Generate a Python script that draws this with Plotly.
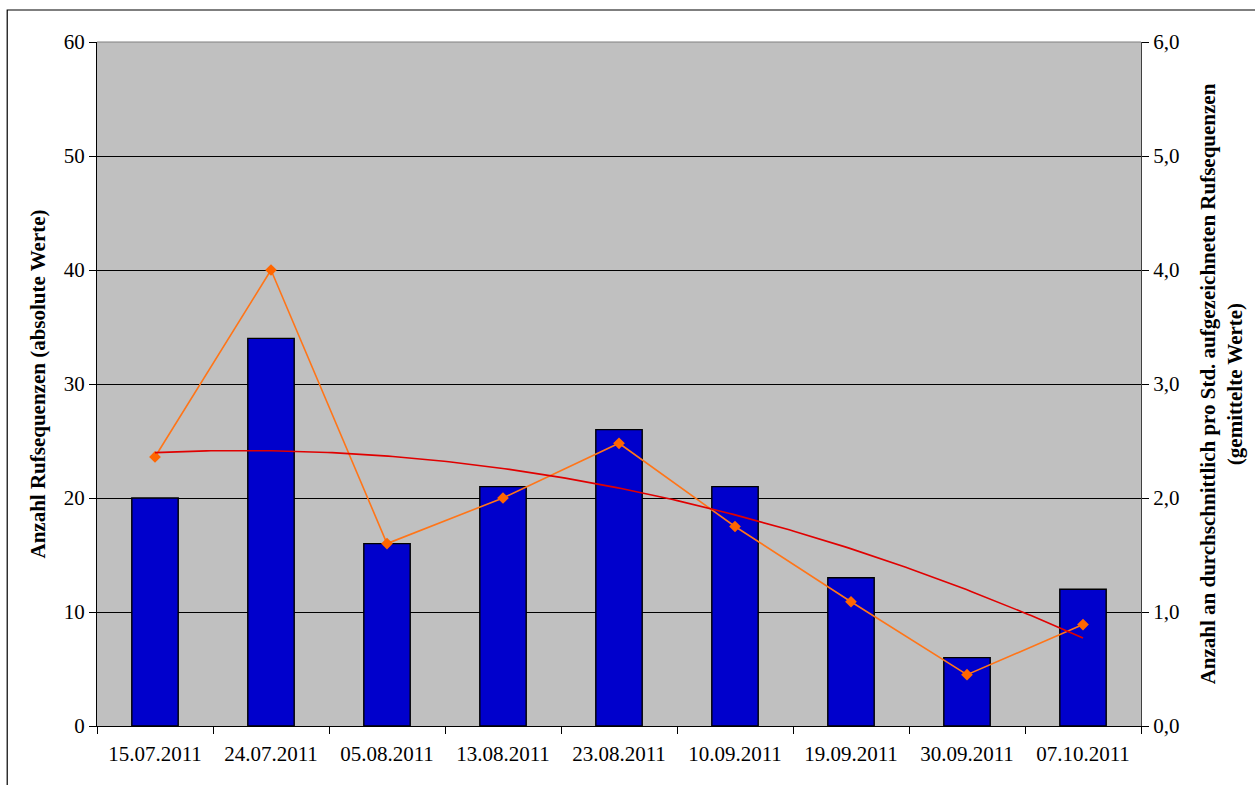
import numpy as np
import plotly.graph_objects as go

# Aufnahmetermine und Werte
dates = ["15.07.2011", "24.07.2011", "05.08.2011", "13.08.2011", "23.08.2011",
         "10.09.2011", "19.09.2011", "30.09.2011", "07.10.2011"]
sequences = [20, 34, 16, 21, 26, 21, 13, 6, 12]               # absolute Werte
per_hour = [2.36, 4.0, 1.6, 2.0, 2.48, 1.75, 1.09, 0.45, 0.89]  # gemittelte Werte pro Std.

left_ticks = [0, 10, 20, 30, 40, 50, 60]
right_ticks = [0, 1, 2, 3, 4, 5, 6]

# Polynomischer Trend (2. Ordnung) der absoluten Werte
idx = np.arange(1, len(sequences) + 1)
coef = np.polyfit(idx, sequences, 2)
xs = np.linspace(1, len(sequences), 200)
trend = np.polyval(coef, xs)

FONT = "Liberation Serif, Times New Roman, serif"

fig = go.Figure()
fig.add_trace(go.Bar(
    x=dates, y=sequences, width=0.4,
    marker=dict(color="#0000CC", line=dict(color="black", width=1.4)),
    xaxis="x", yaxis="y", showlegend=False,
))
fig.add_trace(go.Scatter(
    x=dates, y=per_hour, mode="lines+markers",
    line=dict(color="#FF7518", width=1.6),
    marker=dict(symbol="diamond", size=9, color="#FF6600"),
    xaxis="x", yaxis="y2", showlegend=False,
))
fig.add_trace(go.Scatter(
    x=xs - 1, y=trend, mode="lines",
    line=dict(color="#E00000", width=1.6),
    xaxis="x2", yaxis="y", showlegend=False,
))

fig.update_layout(
    width=1255, height=785,
    margin=dict(l=97, r=112, t=42, b=59),
    paper_bgcolor="white", plot_bgcolor="#C0C0C0",
    separators=",.",
    font=dict(family=FONT, size=21, color="black"),
    xaxis=dict(
        type="category", tickson="boundaries", ticks="outside", ticklen=7,
        tickcolor="black", showline=True, linecolor="black", linewidth=1.2,
        showgrid=False, tickfont=dict(size=21), ticklabelstandoff=9,
        domain=[0, 1],
    ),
    xaxis2=dict(
        overlaying="x", range=[-0.5, len(dates) - 0.5], visible=False,
    ),
    yaxis=dict(
        range=[0, 60], tickvals=left_ticks, ticks="outside", ticklen=7,
        tickcolor="black", showline=True, linecolor="black", linewidth=1.2,
        showgrid=True, gridcolor="black", gridwidth=1, zeroline=False,
        tickfont=dict(size=21),
        title=dict(text="<b>Anzahl Rufsequenzen (absolute Werte)</b>",
                   font=dict(size=21), standoff=12),
    ),
    yaxis2=dict(
        range=[0, 6], tickvals=right_ticks, tickformat=".1f", side="right",
        overlaying="y", ticks="outside", ticklen=7, tickcolor="black",
        showline=True, linecolor="#404040", linewidth=1.2, showgrid=False,
        zeroline=False, tickfont=dict(size=21),
        title=dict(text="<b>Anzahl an durchschnittlich pro Std. aufgezeichneten Rufsequenzen<br>(gemittelte Werte)</b>",
                   font=dict(size=21), standoff=21),
    ),
    shapes=[
        # obere Begrenzung der Zeichenfläche
        dict(type="line", xref="paper", yref="paper", x0=0, x1=1, y0=1, y1=1,
             line=dict(color="#808080", width=1.2)),
        # Diagrammrahmen
        dict(type="rect", xref="paper", yref="paper",
             x0=-0.086, x1=1.2, y0=-0.2, y1=1.0468,
             line=dict(color="black", width=1.2), layer="below"),
    ],
)

fig.write_html("out.html")
